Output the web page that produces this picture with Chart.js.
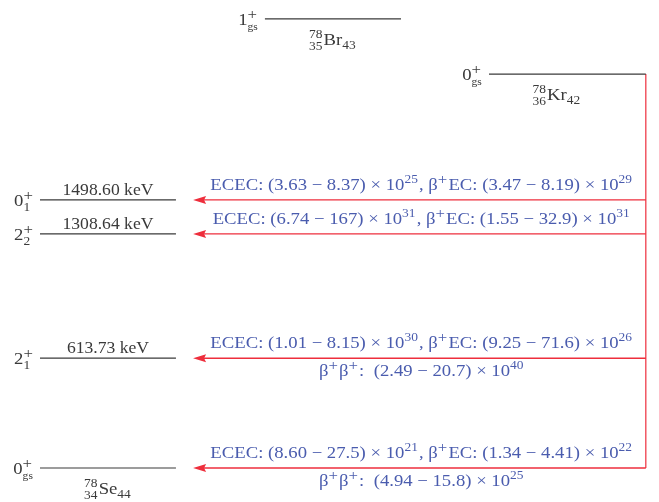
<!DOCTYPE html>
<html>
<head>
<meta charset="utf-8">
<script src="https://cdn.jsdelivr.net/npm/chart.js@4"></script>
<style>
  body { margin: 0; background: #fff; }
  canvas { display: block; }
</style>
</head>
<body>
<canvas id="scheme" width="659" height="502"></canvas>
<script>
// levels of 78Se (daughter), energies in keV
var levelSpins = ['0^{+}_{1}', '2^{+}_{2}', '2^{+}_{1}', '0^{+}_{gs}'];
var levelEnergies = [1498.60, 1308.64, 613.73, 0];
var energyLabels = ['1498.60 keV', '1308.64 keV', '613.73 keV', ''];

// half-life ranges for each transition (yr)
var ececLabels = [
  'ECEC: (3.63 − 8.37) × 10^{25}, β^{+}EC: (3.47 − 8.19) × 10^{29}',
  'ECEC: (6.74 − 167) × 10^{31}, β^{+}EC: (1.55 − 32.9) × 10^{31}',
  'ECEC: (1.01 − 8.15) × 10^{30}, β^{+}EC: (9.25 − 71.6) × 10^{26}',
  'ECEC: (8.60 − 27.5) × 10^{21}, β^{+}EC: (1.34 − 4.41) × 10^{22}'
];
var bbLabels = ['', '', 'β^{+}β^{+}:  (2.49 − 20.7) × 10^{40}', 'β^{+}β^{+}:  (4.94 − 15.8) × 10^{25}'];

// parent and intermediate nuclei
var brEnergy = 2510, brSpin = '1^{+}_{gs}', brName = '^{78}_{35}Br_{43}';
var krEnergy = 2202, krSpin = '0^{+}_{gs}', krName = '^{78}_{36}Kr_{42}';
var seName = '^{78}_{34}Se_{44}';

// columns on the x axis (0..100)
var seCol = [6.07, 26.7];
var brCol = [40.2, 60.85];
var krCol = [74.2, 98.0];
var arrowTip = 29.3;
var textCol = 64.0;
var krNameCol = 84.5;

var FONT = '"Liberation Serif", "Times New Roman", serif';
var SIZE = 17;
var STRETCH = 1.1; // Computer Modern runs wider than Times
var BLUE = '#4a5cae';
var RED = '#ee2e3c';
var GREY = '#3a3a3a';

// tiny markup: ^{..} superscript, _{..} subscript, stacked when adjacent
function parseRich(s) {
  var items = [], buf = '', i = 0;
  function group() {
    var g = '';
    if (s[i] === '{') {
      i++;
      while (i < s.length && s[i] !== '}') g += s[i++];
      i++;
    } else {
      g = s[i++];
    }
    return g;
  }
  while (i < s.length) {
    var c = s[i];
    if (c === '^' || c === '_') {
      if (buf) { items.push({ text: buf }); buf = ''; }
      var it = { sup: '', sub: '', pre: items.length === 0 };
      i++;
      if (c === '^') it.sup = group(); else it.sub = group();
      if (s[i] === '^' || s[i] === '_') {
        var c2 = s[i];
        i++;
        if (c2 === '^') it.sup = group(); else it.sub = group();
      }
      items.push(it);
    } else {
      buf += c;
      i++;
    }
  }
  if (buf) items.push({ text: buf });
  return items;
}

function drawRich(ctx, str, x, y, size, align, color) {
  var items = parseRich(str);
  var big = size + 'px ' + FONT;
  var sm = (size * 0.72) + 'px ' + FONT;
  var tiny = (size * 0.62) + 'px ' + FONT;
  var plus = (size * 0.9) + 'px ' + FONT; // a '+' in script looks small in Times
  function supFont(t) { return t === '+' ? plus : sm; }
  function subFont(t) { return /^[a-z]+$/.test(t) ? tiny : sm; }
  var total = 0;
  items.forEach(function(it) {
    if (it.text !== undefined) {
      ctx.font = big;
      it.w = ctx.measureText(it.text).width;
    } else {
      ctx.font = supFont(it.sup);
      it.ws = it.sup ? ctx.measureText(it.sup).width : 0;
      ctx.font = subFont(it.sub);
      it.wb = it.sub ? ctx.measureText(it.sub).width : 0;
      it.w = Math.max(it.ws, it.wb) + 1;
    }
    total += it.w;
  });
  var start = x;
  if (align === 'center') start = x - total * STRETCH / 2;
  else if (align === 'right') start = x - total * STRETCH;
  ctx.save();
  ctx.translate(start, y);
  ctx.scale(STRETCH, 1);
  ctx.fillStyle = color;
  ctx.textBaseline = 'alphabetic';
  ctx.textAlign = 'left';
  var cx = 0;
  items.forEach(function(it) {
    if (it.text !== undefined) {
      ctx.font = big;
      ctx.fillText(it.text, cx, 0);
    } else {
      var both = it.sup && it.sub;
      if (it.sup) {
        ctx.font = supFont(it.sup);
        var sx = it.pre ? cx + it.w - 1 - it.ws : cx;
        ctx.fillText(it.sup, sx, -size * (it.sup === '+' ? 0.36 : 0.42));
      }
      if (it.sub) {
        ctx.font = subFont(it.sub);
        var bx = it.pre ? cx + it.w - 1 - it.wb : cx;
        ctx.fillText(it.sub, bx, size * (both ? 0.3 : 0.25));
      }
    }
    cx += it.w;
  });
  ctx.restore();
}

var datasets = [];
function seg(x0, y0, x1, y1, color, width, kind) {
  datasets.push({
    data: [{ x: x0, y: y0 }, { x: x1, y: y1 }],
    borderColor: color,
    borderWidth: width,
    pointRadius: 0,
    kind: kind
  });
}

levelEnergies.forEach(function(e) { seg(seCol[0], e, seCol[1], e, GREY, 1.2, 'level'); });
seg(brCol[0], brEnergy, brCol[1], brEnergy, GREY, 1.2, 'level');
seg(krCol[0], krEnergy, krCol[1], krEnergy, GREY, 1.2, 'level');
seg(krCol[1], krEnergy, krCol[1], levelEnergies[levelEnergies.length - 1], RED, 1.2, 'feed');
levelEnergies.forEach(function(e) { seg(krCol[1], e, arrowTip + 1.2, e, RED, 1.4, 'arrow'); });

var labelsPlugin = {
  id: 'labels',
  afterDatasetsDraw: function(chart) {
    var ctx = chart.ctx;
    var xs = chart.scales.x, ys = chart.scales.y;

    // arrowheads at the end of each transition line
    chart.data.datasets.forEach(function(ds, i) {
      if (ds.kind !== 'arrow') return;
      var py = chart.getDatasetMeta(i).data[1].y;
      var tx = xs.getPixelForValue(arrowTip);
      ctx.save();
      ctx.fillStyle = RED;
      ctx.beginPath();
      ctx.moveTo(tx, py);
      ctx.lineTo(tx + 13, py - 4);
      ctx.lineTo(tx + 11, py);
      ctx.lineTo(tx + 13, py + 4);
      ctx.closePath();
      ctx.fill();
      ctx.restore();
    });

    var seL = xs.getPixelForValue(seCol[0]);
    var seMid = xs.getPixelForValue((seCol[0] + seCol[1]) / 2);
    var tcx = xs.getPixelForValue(textCol);
    levelEnergies.forEach(function(e, i) {
      var py = ys.getPixelForValue(e);
      drawRich(ctx, levelSpins[i], seL - 6, py + 6, SIZE, 'right', GREY);
      if (energyLabels[i]) drawRich(ctx, energyLabels[i], seMid, py - 5, SIZE - 1, 'center', GREY);
      drawRich(ctx, ececLabels[i], tcx, py - 10, SIZE, 'center', BLUE);
      if (bbLabels[i]) drawRich(ctx, bbLabels[i], tcx, py + 18, SIZE, 'center', BLUE);
    });
    drawRich(ctx, seName, seMid, ys.getPixelForValue(0) + 26, SIZE, 'center', GREY);

    var brY = ys.getPixelForValue(brEnergy);
    drawRich(ctx, brSpin, xs.getPixelForValue(brCol[0]) - 6, brY + 6, SIZE, 'right', GREY);
    drawRich(ctx, brName, xs.getPixelForValue((brCol[0] + brCol[1]) / 2), brY + 26, SIZE, 'center', GREY);

    var krY = ys.getPixelForValue(krEnergy);
    drawRich(ctx, krSpin, xs.getPixelForValue(krCol[0]) - 6, krY + 6, SIZE, 'right', GREY);
    drawRich(ctx, krName, xs.getPixelForValue(krNameCol), krY + 26, SIZE, 'center', GREY);
  }
};

new Chart(document.getElementById('scheme').getContext('2d'), {
  type: 'line',
  data: { datasets: datasets },
  options: {
    responsive: false,
    animation: false,
    layout: { padding: 0 },
    scales: {
      x: { type: 'linear', min: 0, max: 100, display: false },
      y: { type: 'linear', min: -190, max: 2616, display: false }
    },
    plugins: {
      legend: { display: false },
      tooltip: { enabled: false }
    },
    elements: { line: { tension: 0, borderCapStyle: 'butt' } }
  },
  plugins: [labelsPlugin]
});
</script>
</body>
</html>
